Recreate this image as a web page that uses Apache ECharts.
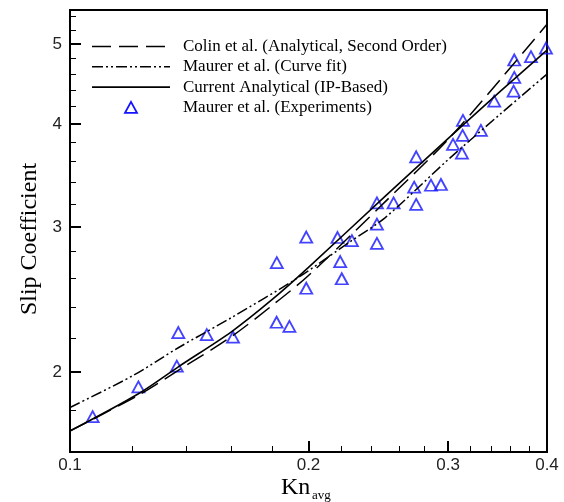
<!DOCTYPE html>
<html>
<head>
<meta charset="utf-8">
<script src="https://cdn.jsdelivr.net/npm/echarts@6/dist/echarts.min.js"></script>
<style>
html,body{margin:0;padding:0;background:#fff;}
#c{width:564px;height:502px;}
</style>
</head>
<body>
<div id="c"></div>
<script>
// Experimental data (Maurer et al.)
const knExp = [0.1068,0.1220,0.1370,0.1364,0.1488,0.1606,0.1824,0.1823,0.1892,0.1987,0.1987,0.2176,0.2193,0.2203,0.2269,0.2440,0.2440,0.2440,0.2561,0.2735,0.2719,0.2735,0.2855,0.2939,0.3044,0.3133,0.3130,0.3124,0.3301,0.3431,0.3637,0.3637,0.3630,0.3818,0.3988];
const slipExp = [1.766,1.919,2.234,2.034,2.221,2.205,2.716,2.299,2.273,2.917,2.528,2.913,2.724,2.596,2.887,3.209,3.024,2.866,3.209,3.650,3.353,3.195,3.371,3.378,3.779,4.040,3.875,3.688,3.929,4.263,4.783,4.557,4.384,4.827,4.945];

// Colin et al. (Analytical, Second Order)
const knColin = [0.1,0.122,0.137,0.16,0.18,0.2,0.25,0.3,0.35,0.4];
const slipColin = [1.697,1.875,2.01,2.21,2.41,2.62,3.22,3.83,4.54,5.286];

// Maurer et al. (Curve fit)
const knFit = [0.1,0.12,0.137,0.16,0.1935,0.227,0.25,0.3,0.35,0.4];
const slipFit = [1.812,1.98,2.141,2.33,2.60,2.89,3.08,3.62,4.12,4.598];

// Current Analytical (IP-Based)
const knCur = [0.1,0.122,0.137,0.16,0.18,0.2,0.25,0.3,0.35,0.4];
const slipCur = [1.697,1.883,2.03,2.24,2.45,2.68,3.27,3.84,4.39,4.918];

// Tick values
const xMajor = [0.1,0.2,0.3,0.4];
const xMinor = [0.12,0.14,0.16,0.18,0.22,0.24,0.26,0.28,0.32,0.34,0.36,0.38];
const yMajor = [2,3,4,5];
const yMinor = [1.6,1.8,2.2,2.4,2.6,2.8,3.2,3.4,3.6,3.8,4.2,4.4,4.6,4.8,5.2,5.4];

// Legend entries
const legendNames = ['Colin et al. (Analytical, Second Order)','Maurer et al. (Curve fit)','Current Analytical (IP-Based)','Maurer et al. (Experiments)'];

const zip = (a,b) => a.map((v,i)=>[v,b[i]]);
const fmt = v => String(Math.round(v*100)/100);

const BLUE = '#1414ff';
const dashColin = [19,8];
const dashFit = [11,3,2,3,2,3];

const chart = echarts.init(document.getElementById('c'), null, {renderer:'canvas'});

// Legend drawn as graphic elements
const legX0 = 92, legX1 = 170, legTextX = 183, legY0 = 46.5, legDY = 20.3;
const legendGraphics = [];
const legStyles = [
  {lineDash:dashColin, lineWidth:1.5},
  {lineDash:dashFit, lineWidth:1.5},
  {lineDash:null, lineWidth:1.6}
];
legendNames.forEach((nm,i)=>{
  const y = legY0 + i*legDY;
  if (i < 3) {
    legendGraphics.push({type:'polyline', shape:{points:[[legX0,y],[legX1,y]]},
      style:{stroke:'#000', lineWidth:legStyles[i].lineWidth, lineDash:legStyles[i].lineDash, fill:null}});
  } else {
    legendGraphics.push({type:'polygon', shape:{points:[[131,y-5.5],[137,y+5.5],[125,y+5.5]]},
      style:{stroke:BLUE, lineWidth:1.8, fill:null}});
  }
  legendGraphics.push({type:'text', x:legTextX, y:y, style:{text:nm, font:'17px "Liberation Serif"', fill:'#000', verticalAlign:'middle', textVerticalAlign:'middle'}});
});

chart.setOption({
  animation:false,
  backgroundColor:'#fff',
  grid:{left:70,right:17,top:10,bottom:50,show:true,borderColor:'#000',borderWidth:2,backgroundColor:'transparent'},
  xAxis:[
    {type:'log', logBase:10, min:0.1, max:0.4,
      axisLine:{show:true, lineStyle:{color:'#000',width:2}},
      axisTick:{show:true, inside:true, length:11, customValues:xMajor, lineStyle:{color:'#000',width:2}},
      axisLabel:{show:true, customValues:xMajor, formatter:fmt, fontFamily:'Liberation Sans', fontSize:17, color:'#222', margin:5},
      splitLine:{show:false}},
    {type:'log', logBase:10, min:0.1, max:0.4, position:'bottom',
      axisLine:{show:false},
      axisTick:{show:true, inside:true, length:6, customValues:xMinor, lineStyle:{color:'#000',width:1}},
      axisLabel:{show:false},
      splitLine:{show:false}}
  ],
  yAxis:[
    {type:'log', logBase:10, min:1.6, max:5.5,
      axisLine:{show:true, lineStyle:{color:'#000',width:2}},
      axisTick:{show:true, inside:true, length:11, customValues:yMajor, lineStyle:{color:'#000',width:2}},
      axisLabel:{show:true, customValues:yMajor, formatter:fmt, fontFamily:'Liberation Sans', fontSize:17, color:'#222', margin:8},
      splitLine:{show:false}},
    {type:'log', logBase:10, min:1.6, max:5.5, position:'left', offset:0,
      axisLine:{show:false},
      axisTick:{show:true, inside:true, length:6, customValues:yMinor, lineStyle:{color:'#000',width:1}},
      axisLabel:{show:false},
      splitLine:{show:false}}
  ],
  series:[
    {name:legendNames[0], type:'line', data:zip(knColin,slipColin), smooth:0.3, symbol:'none',
     lineStyle:{color:'#000', width:1.5, type:dashColin}},
    {name:legendNames[1], type:'line', data:zip(knFit,slipFit), smooth:0.3, symbol:'none',
     lineStyle:{color:'#000', width:1.5, type:dashFit}},
    {name:legendNames[2], type:'line', data:zip(knCur,slipCur), smooth:0.3, symbol:'none',
     lineStyle:{color:'#000', width:1.6, type:'solid'}},
    {name:legendNames[3], type:'scatter', data:zip(knExp,slipExp), symbol:'triangle', symbolSize:[12,11],
     itemStyle:{color:'rgba(0,0,0,0)', borderColor:BLUE, borderWidth:1.8}}
  ],
  graphic:legendGraphics.concat([
    {type:'text', x:30, y:239, rotation:Math.PI/2,
     style:{text:'Slip Coefficient', font:'24px "Liberation Serif"', fill:'#000', align:'center', verticalAlign:'middle', textAlign:'center', textVerticalAlign:'middle'}},
    {type:'text', x:281, y:488, style:{text:'Kn', font:'24px "Liberation Serif"', fill:'#000', verticalAlign:'middle', textVerticalAlign:'middle'}},
    {type:'text', x:312, y:496, style:{text:'avg', font:'13px "Liberation Serif"', fill:'#000', verticalAlign:'middle', textVerticalAlign:'middle'}}
  ])
});
</script>
</body>
</html>
